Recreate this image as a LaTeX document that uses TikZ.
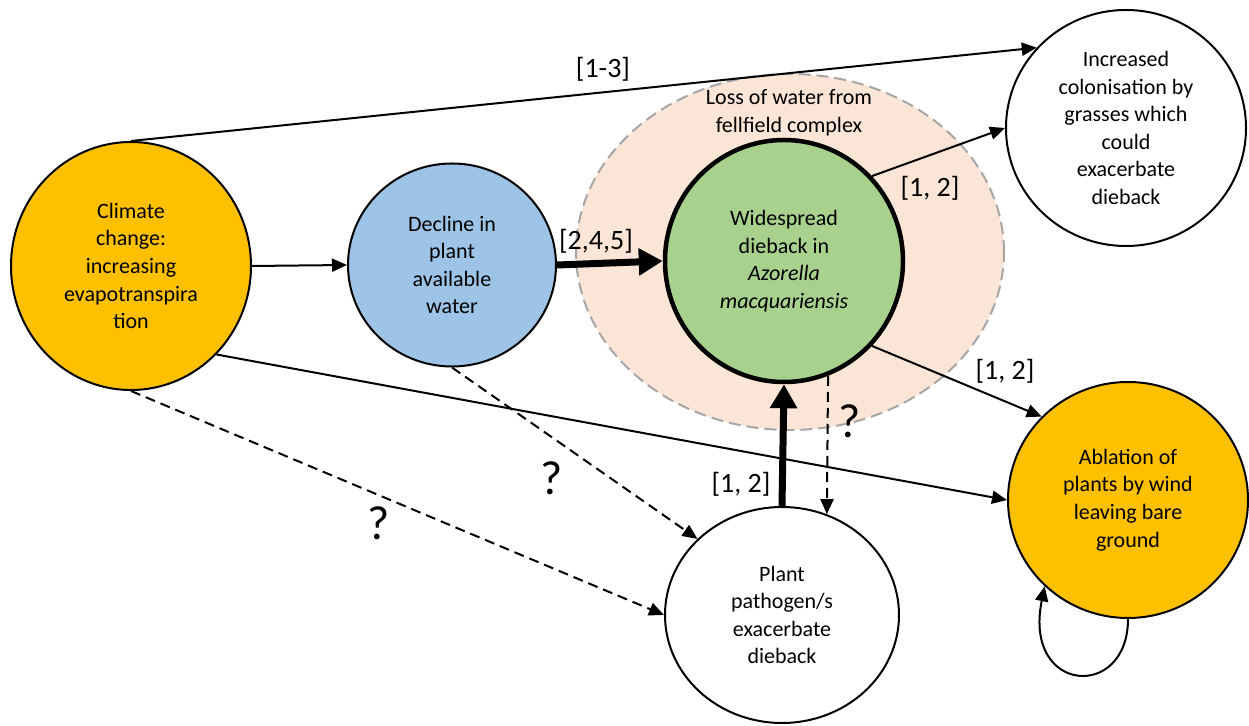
\documentclass[tikz,border=0pt]{standalone}
\usepackage{fontspec}
\setmainfont{Carlito}
\usepackage{tikz}
\usetikzlibrary{shapes.geometric,arrows.meta,positioning}

\begin{document}
\begin{tikzpicture}[x=0.5pt,y=-0.5pt,
  blob/.style={shape=ellipse,draw=black,line width=1pt,inner sep=0pt,align=center,
    font=\fontsize{11}{13.8}\selectfont},
  lnk/.style={line width=1pt,-{Triangle[length=7.5pt,width=6.5pt]}},
  fat/.style={line width=3.5pt,-{Triangle[length=12pt,width=13pt]}},
  guess/.style={lnk,dash pattern=on 5pt off 3pt},
  refl/.style={font=\fontsize{14}{16}\selectfont},
  qm/.style={font=\fontsize{24}{26}\selectfont}]
%
\useasboundingbox (0,0) rectangle (1249,726);
%
\definecolor{cgold}{RGB}{255,192,0}
\definecolor{cblue}{RGB}{157,195,230}
\definecolor{cgreen}{RGB}{169,209,142}
\definecolor{cpeach}{RGB}{251,229,214}
\definecolor{cgrey}{RGB}{166,166,166}
%
\node[shape=ellipse,fill=cpeach,draw=cgrey,line width=1pt,dash pattern=on 6pt off 3pt,
  minimum width=214pt,minimum height=178pt] (fell) at (790,252) {};
\node[align=center,font=\fontsize{11}{13.8}\selectfont] (felltxt) at (789,113) {Loss of water from\\fellfield complex};
%
\node[blob,fill=cgold,minimum width=120pt,minimum height=124pt] (clim) at (131,266)
  {Climate\\change:\\increasing\\evapotranspira\\tion};
\node[blob,fill=cblue,minimum width=104pt,minimum height=101.5pt] (avail) at (452,265)
  {Decline in\\plant\\available\\water};
\node[blob,fill=cgreen,line width=2.25pt,minimum width=119pt,minimum height=121pt] (dieback) at (784,261)
  {Widespread\\dieback in\\\textit{Azorella}\\\textit{macquariensis}};
\node[blob,fill=white,minimum width=120pt,minimum height=118pt] (grass) at (1126,128)
  {Increased\\colonisation by\\grasses which\\could\\exacerbate\\dieback};
\node[blob,fill=cgold,minimum width=120pt,minimum height=118pt] (ablat) at (1128,500)
  {Ablation of\\plants by wind\\leaving bare\\ground};
\node[blob,fill=white,minimum width=117pt,minimum height=108pt] (pathog) at (782,615)
  {Plant\\pathogen/s\\exacerbate\\dieback};
%
\draw[lnk] (clim.north) -- (grass.138);
\draw[lnk] (clim.east) -- (avail.west);
\draw[fat] (avail.east) -- (dieback.west);
\draw[lnk] (dieback.44) -- (grass.west);
\draw[lnk] (dieback.-44) -- (ablat.136);
\draw[lnk] (clim.-46) -- (ablat.west);
\draw[guess] (clim.south) -- (pathog.west);
\draw[guess] (avail.south) -- (pathog.138);
\draw[fat] (pathog.north) -- (dieback.south);
\draw[guess] (dieback.-69) -- (pathog.66);
\draw[lnk] (ablat.south) .. controls +(0,82) and +(-22,108) .. (ablat.226);
%
\node[refl] (r13) at (603,69) {[1-3]};
\node[refl] (r245) at (596,241) {[2,4,5]};
\node[refl] (r12a) at (930,188) {[1, 2]};
\node[refl] (r12b) at (1005,371) {[1, 2]};
\node[refl] (r12c) at (741,484) {[1, 2]};
\node[qm] (qa) at (379,523) {?};
\node[qm] (qb) at (552,478) {?};
\node[qm] (qc) at (850,421) {?};
%
\end{tikzpicture}
\end{document}
